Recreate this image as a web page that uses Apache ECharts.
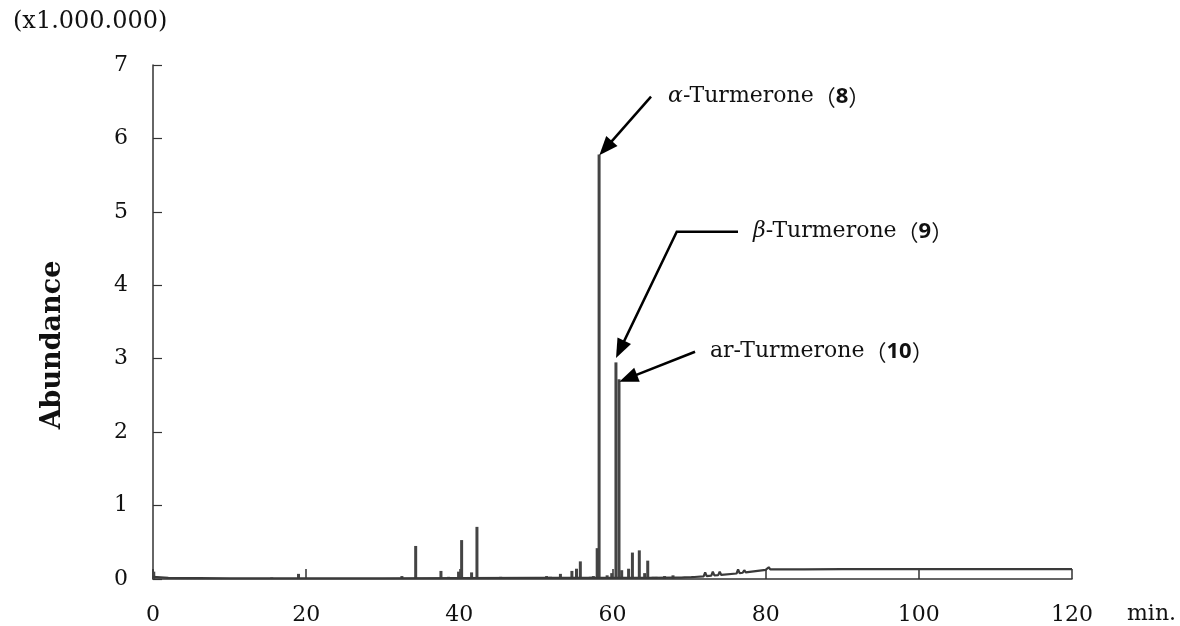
<!DOCTYPE html>
<html>
<head>
<meta charset="utf-8">
<script src="https://cdn.jsdelivr.net/npm/echarts@6/dist/echarts.min.js"></script>
<style>
  html, body { margin: 0; padding: 0; background: #fff; }
  #main { width: 1180px; height: 626px; }
</style>
</head>
<body>
<div id="main"></div>
<script>
// axis ticks
var xTicks = [0, 20, 40, 60, 80, 100, 120];
var yTicks = [0, 1, 2, 3, 4, 5, 6, 7];

// baseline of the trace incl. the small bumps on the late ramp (min, x1.000.000)
var baseTimes  = [0, 2, 10, 30, 50, 65, 68, 69.0, 69.2, 69.4, 70.3, 70.5, 70.7, 71.9, 72.1, 72.3,
  72.9, 73.1, 73.3, 73.8, 74.0, 74.2, 76.2, 76.4, 76.6, 77.0, 77.2, 77.4, 80.0, 80.2, 80.4, 80.6,
  85, 90, 96.9, 97.1, 97.3, 107.2, 107.4, 107.6, 120];
var baseValues = [0.03, 0.015, 0.01, 0.01, 0.015, 0.015, 0.02, 0.02, 0.045, 0.022, 0.025, 0.05, 0.027, 0.035, 0.09, 0.04,
  0.045, 0.1, 0.05, 0.052, 0.1, 0.055, 0.075, 0.13, 0.08, 0.085, 0.12, 0.09, 0.125, 0.125, 0.16, 0.13,
  0.13, 0.135, 0.135, 0.15, 0.135, 0.135, 0.15, 0.135, 0.135];

// peaks
var peakTimes = [0.1, 4.0, 15.5, 19.0, 32.5, 34.3, 37.6, 38.6, 39.9, 40.3, 40.9, 41.6, 42.3,
  44.6, 45.4, 46.7, 47.8, 50.7, 51.4, 51.9, 53.2, 54.7, 55.3, 55.8, 57.1, 57.5, 58.0, 58.25,
  59.3, 59.9, 60.45, 60.85, 61.2, 62.1, 62.6, 63.5, 64.2, 64.6, 65.3, 65.7, 66.8, 67.9];
var peakHeights = [0.10, 0.025, 0.02, 0.07, 0.04, 0.45, 0.11, 0.03, 0.10, 0.53, 0.02, 0.09, 0.71,
  0.02, 0.03, 0.02, 0.02, 0.02, 0.04, 0.03, 0.07, 0.11, 0.14, 0.24, 0.03, 0.04, 0.42, 5.78,
  0.05, 0.08, 2.95, 2.72, 0.12, 0.14, 0.36, 0.39, 0.08, 0.25, 0.03, 0.03, 0.04, 0.05];

// annotations: label text, label anchor, arrow path (data coords, last point = arrow tip)
var annoLabels = [
  '{g|α}{t|-Turmerone}{p|（}{b|8}{p|）}',
  '{g|β}{t|-Turmerone}{p|（}{b|9}{p|）}',
  '{t|ar-Turmerone}{p|（}{b|10}{p|）}'
];
var annoAnchors = [[67.25, 6.57], [78.35, 4.73], [72.73, 3.095]];
var annoPaths = [
  [[65.03, 6.57], [58.28, 5.77]],
  [[76.39, 4.73], [68.39, 4.73], [60.46, 3.01]],
  [[70.78, 3.095], [60.89, 2.687]]
];

var serif = "'DejaVu Serif', 'Liberation Serif', serif";
var ink = '#111';

var chart = echarts.init(document.getElementById('main'));

var option = {
  animation: false,
  grid: { left: 153, right: 108, top: 65, bottom: 47 },
  xAxis: {
    type: 'value',
    min: xTicks[0],
    max: xTicks[xTicks.length - 1],
    interval: xTicks[1] - xTicks[0],
    axisLine: { show: true, lineStyle: { color: '#333', width: 1.5 } },
    axisTick: { show: true, inside: true, length: 10, lineStyle: { color: '#333', width: 1.5 } },
    axisLabel: { color: ink, fontSize: 22, fontFamily: serif, margin: 25 },
    splitLine: { show: false }
  },
  yAxis: {
    type: 'value',
    min: yTicks[0],
    max: yTicks[yTicks.length - 1],
    interval: yTicks[1] - yTicks[0],
    axisLine: { show: true, lineStyle: { color: '#333', width: 1.5 } },
    axisTick: { show: true, inside: true, length: 9, lineStyle: { color: '#333', width: 1.2 } },
    axisLabel: { color: ink, fontSize: 22, fontFamily: serif, margin: 25 },
    splitLine: { show: false }
  },
  series: [
    {
      type: 'line',
      data: baseTimes.map(function (t, i) { return [t, baseValues[i]]; }),
      symbol: 'none',
      lineStyle: { color: '#3a3a3a', width: 2.2 },
      z: 3
    },
    {
      type: 'bar',
      data: peakTimes.map(function (t, i) { return [t, peakHeights[i]]; }),
      barWidth: 3,
      itemStyle: { color: '#444' },
      z: 2
    }
  ]
};
chart.setOption(option);

// text outside the grid
var graphics = [
  {
    type: 'text', left: 13, top: 10,
    style: { text: '(x1.000.000)', font: '24px ' + serif, fill: ink }
  },
  {
    type: 'text', x: 53, y: 345, rotation: Math.PI / 2,
    style: { text: 'Abundance', font: 'bold 27px ' + serif, fill: ink, align: 'center', verticalAlign: 'middle' }
  },
  {
    type: 'text', x: 1127, y: 614,
    style: { text: 'min.', font: '22px ' + serif, fill: ink, verticalAlign: 'middle' }
  }
];

// annotation labels and arrows, placed through the axis scales
var rich = {
  g: { fontFamily: serif, fontStyle: 'italic', fontSize: 22, fill: ink },
  t: { fontFamily: serif, fontSize: 22, fill: ink },
  p: { fontFamily: "'Noto Sans CJK JP', sans-serif", fontSize: 22, fill: ink },
  b: { fontFamily: "'Noto Sans', sans-serif", fontWeight: 'bold', fontSize: 22, fill: ink }
};
annoLabels.forEach(function (txt, i) {
  var p = chart.convertToPixel({ gridIndex: 0 }, annoAnchors[i]);
  graphics.push({
    type: 'text', x: p[0], y: p[1], z: 10,
    style: { text: txt, rich: rich, verticalAlign: 'middle', align: 'left' }
  });
});
annoPaths.forEach(function (path) {
  var pts = path.map(function (d) { return chart.convertToPixel({ gridIndex: 0 }, d); });
  var tip = pts[pts.length - 1];
  var prev = pts[pts.length - 2];
  var dx = tip[0] - prev[0], dy = tip[1] - prev[1];
  var len = Math.sqrt(dx * dx + dy * dy);
  var ux = dx / len, uy = dy / len;
  var headLen = 19, headW = 7.5;
  var bx = tip[0] - ux * headLen, by = tip[1] - uy * headLen;
  var linePts = pts.slice(0, -1).concat([[bx + ux * 2, by + uy * 2]]);
  graphics.push({
    type: 'polyline', z: 10,
    shape: { points: linePts },
    style: { stroke: '#000', lineWidth: 2.5, fill: null }
  });
  graphics.push({
    type: 'polygon', z: 10,
    shape: { points: [tip, [bx - uy * headW, by + ux * headW], [bx + uy * headW, by - ux * headW]] },
    style: { fill: '#000' }
  });
});

chart.setOption({ graphic: graphics });
</script>
</body>
</html>
